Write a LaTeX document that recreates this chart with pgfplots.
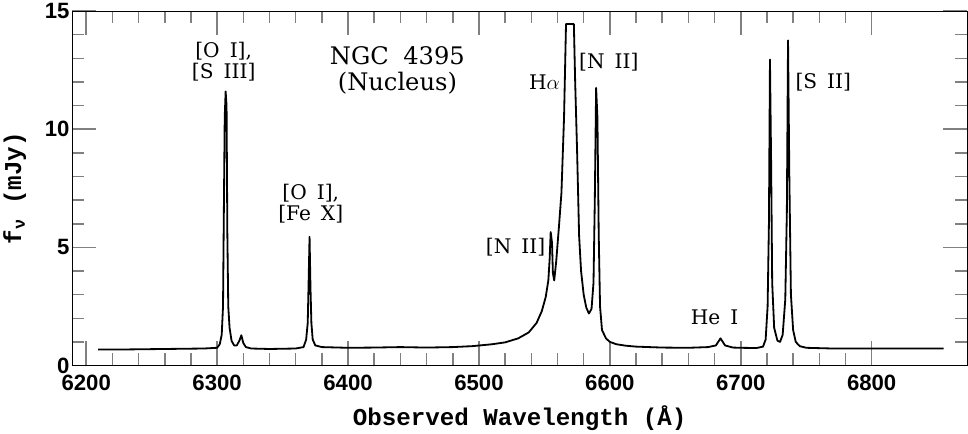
\documentclass[border=0pt]{standalone}
\usepackage{pgfplots}
\pgfplotsset{compat=1.18}
\usepackage{fontspec}
\setmainfont{DejaVu Serif}
\newfontfamily\ticksf{Liberation Sans}
\newfontfamily\labmono{Liberation Mono}

\begin{document}
\begin{tikzpicture}
\begin{axis}[
  scale only axis, width=889pt, height=352pt,
  xmin=6189.2, xmax=6873, ymin=0, ymax=15,
  xtick={6200,6300,...,6800}, ytick={0,5,10,15},
  minor x tick num=4, minor y tick num=4,
  major tick length=24pt, minor tick length=12pt,
  xtick style={line width=1.5pt},
  ytick style={line width=1.5pt},
  /pgf/number format/1000 sep={},
  /pgf/number format/assume math mode=true,
  tick label style={font=\ticksf\bfseries\fontsize{22}{22}\selectfont},
  xticklabel style={yshift=-6pt},
  yticklabel style={xshift=1pt},
  xlabel={Observed Wavelength (Å)},
  ylabel={f\textsubscript{ν} (mJy)},
  label style={font=\labmono\bfseries\fontsize{24}{24}\selectfont},
  xlabel style={at={(axis description cs:0.5,-0.168)}, anchor=base},
  ylabel style={at={(axis description cs:-0.064,0.5)}, anchor=center},
]
\addplot[black, line width=1.8pt, line join=round] coordinates {
(6209,0.68) (6230,0.68) (6260,0.70) (6290,0.72) (6300,0.75) (6302,0.9)
(6303.5,1.3) (6304.5,2.5) (6305,5.7) (6305.8,10.5) (6306.5,11.6) (6307.2,11.0)
(6307.8,5.6) (6308.5,2.5) (6309.5,1.6) (6311,1.05) (6313,0.85) (6315,0.85)
(6317,1.05) (6318.5,1.28) (6320,0.95) (6322,0.78) (6326,0.72) (6340,0.70)
(6360,0.72) (6366,0.78) (6368,1.1) (6369.2,1.8) (6369.8,3.3) (6370.6,5.45)
(6371.3,3.3) (6372,1.8) (6373,1.1) (6375,0.85) (6380,0.78) (6400,0.75)
(6420,0.76) (6440,0.78) (6460,0.76) (6480,0.78) (6495,0.82) (6510,0.9)
(6520,0.98) (6530,1.15) (6538,1.4) (6544,1.8) (6548,2.3) (6551,2.9)
(6553,3.6) (6554,4.5) (6554.8,5.65) (6555.8,5.2) (6556.5,3.9) (6557.5,3.6)
(6559,4.4) (6561,5.8) (6563,7.3) (6565,10.5) (6566.5,14.45) (6572.5,14.45)
(6573.5,12.0) (6575,9.0) (6576.5,5.5) (6578,4.0) (6580,3.0) (6582,2.45)
(6584,2.2) (6586,2.4) (6587.5,3.5) (6588.5,7.0) (6589.5,11.75) (6590.5,10.5)
(6591.5,5.5) (6592.5,2.5) (6594,1.5) (6597,1.15) (6600,1.0) (6605,0.9)
(6612,0.84) (6620,0.8) (6640,0.76) (6660,0.75) (6675,0.78) (6681,0.85)
(6684.5,1.15) (6688,0.85) (6694,0.76) (6700,0.75) (6712,0.74) (6717,0.8)
(6719,1.1) (6720.5,2.5) (6721.5,6.0) (6722.3,12.95) (6723.2,8.5) (6724,3.5)
(6725.5,1.6) (6728,1.05) (6730,1.0) (6732,1.3) (6734,2.8) (6735.2,6.5)
(6736.1,13.76) (6737.1,8.0) (6738.3,3.0) (6740,1.5) (6742,1.0) (6745,0.82)
(6750,0.75) (6770,0.72) (6800,0.72) (6830,0.72) (6855,0.72)
};
\begin{scope}[every node/.style={align=center, font=\fontsize{20}{21}\selectfont}]
\node at (axis cs:6305,12.87) {[O\hspace{0.5em}I],\\{[S\hspace{0.5em}III]}};
\node at (axis cs:6371.5,6.86) {[O\hspace{0.5em}I],\\{[Fe\hspace{0.5em}X]}};
\node at (axis cs:6550,12.0) {H$\alpha$};
\node at (axis cs:6599.2,12.83) {[N\hspace{0.5em}II]};
\node at (axis cs:6763,12.0) {[S\hspace{0.5em}II]};
\node at (axis cs:6528,5.0) {[N\hspace{0.5em}II]};
\node at (axis cs:6680,2.05) {He\hspace{0.5em}I};
\node[font=\fontsize{24}{26}\selectfont] at (axis cs:6437.7,12.48) {NGC\hspace{0.6em}4395\\(Nucleus)};
\end{scope}
\end{axis}
\end{tikzpicture}
\end{document}
